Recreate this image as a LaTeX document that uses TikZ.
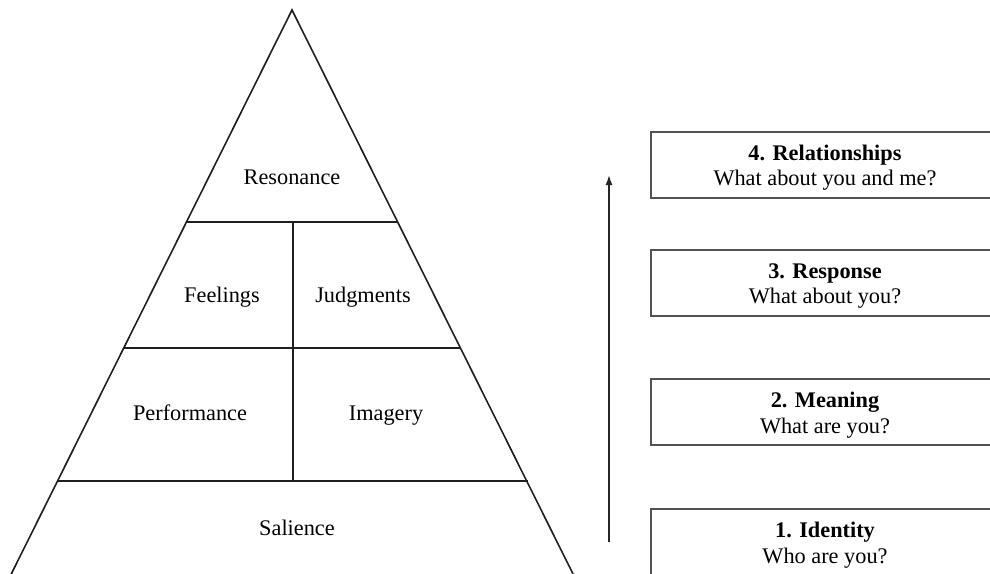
\documentclass[tikz,border=0pt]{standalone}
\usepackage{fontspec}
\setmainfont{Liberation Serif}
\usetikzlibrary{arrows.meta}
\newcommand{\topstrut}{\rule{0pt}{21.5pt}}
\begin{document}
\begin{tikzpicture}[x=1pt,y=-1pt,
  pyr/.style={draw=black!88,line width=1.6pt},
  lbl/.style={font=\fontsize{22.3}{26}\selectfont,inner sep=0pt,anchor=base},
  stage/.style={draw=black!68,line width=2pt,minimum width=348pt,minimum height=66pt,
    align=center,font=\fontsize{22.3}{25.5}\selectfont,inner sep=0pt},
  up/.style={draw=black!85,line width=1.5pt,-{Latex[length=10pt,width=7pt]}}]
\useasboundingbox (0,0) rectangle (990,573);
\clip (0,0) rectangle (990,573);
\fill[white] (0,0) rectangle (990,573);

% pyramid outline and tiers
\coordinate (apex) at (292,10);
\coordinate (bl) at (0.3,596);
\coordinate (br) at (584,596);
\coordinate (r1l) at (186.8,222);
\coordinate (r1r) at (398,222);
\coordinate (r2l) at (124.3,348);
\coordinate (r2r) at (461,348);
\coordinate (r3l) at (58.4,481);
\coordinate (r3r) at (527.5,481);
\coordinate (mtop) at (292.8,222);
\coordinate (mbot) at (292.8,481);
\draw[pyr,line join=miter] (bl) -- (apex) -- (br);
\draw[pyr] (r1l) -- (r1r);
\draw[pyr] (r2l) -- (r2r);
\draw[pyr] (r3l) -- (r3r);
\draw[pyr] (mtop) -- (mbot);

% tier labels (placed on their baselines)
\node[lbl] (resonance) at (292,184.5) {Resonance};
\node[lbl] (feelings) at (222,302.5) {Feelings};
\node[lbl] (judgments) at (363,302.5) {Judgments};
\node[lbl] (performance) at (190,420.5) {Performance};
\node[lbl] (imagery) at (386,420.5) {Imagery};
\node[lbl] (salience) at (297,535.5) {Salience};

% stages on the right
\node[stage] (s4) at (825,164.5) {\topstrut\textbf{4. Relationships}\\What about you and me?};
\node[stage] (s3) at (825,282.5) {\topstrut\textbf{3. Response}\\What about you?};
\node[stage] (s2) at (825,412) {\topstrut\textbf{2. Meaning}\\What are you?};
\node[stage] (s1) at (825,542) {\topstrut\textbf{1. Identity}\\Who are you?};

% upward arrow
\coordinate (abot) at (609,542);
\coordinate (atop) at (609,175);
\draw[up] (abot) -- (atop);
\end{tikzpicture}
\end{document}
